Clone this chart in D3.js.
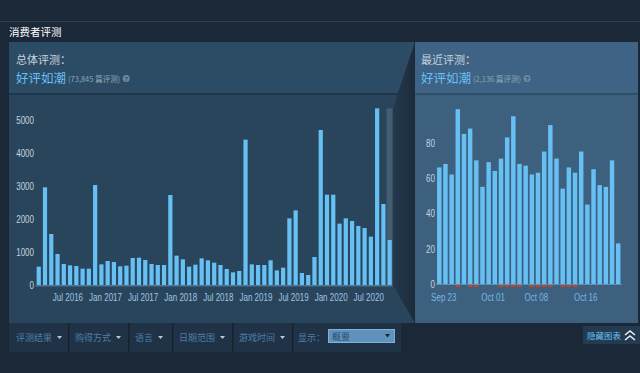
<!DOCTYPE html>
<html><head><meta charset="utf-8">
<script src="https://cdn.jsdelivr.net/npm/d3@7"></script>
<style>
html,body{margin:0;padding:0;background:#1b2838;}
svg{display:block;}
text{font-family:"Liberation Sans",Arial,"Noto Sans CJK SC",sans-serif;}
.cjk{font-family:"Noto Sans CJK SC","Liberation Sans",sans-serif;}
</style></head>
<body>
<svg id="c" width="640" height="373"></svg>
<script>
// ---- data ----
const months = ["2016-02","2016-03","2016-04","2016-05","2016-06","2016-07","2016-08","2016-09","2016-10","2016-11","2016-12",
"2017-01","2017-02","2017-03","2017-04","2017-05","2017-06","2017-07","2017-08","2017-09","2017-10","2017-11","2017-12",
"2018-01","2018-02","2018-03","2018-04","2018-05","2018-06","2018-07","2018-08","2018-09","2018-10","2018-11","2018-12",
"2019-01","2019-02","2019-03","2019-04","2019-05","2019-06","2019-07","2019-08","2019-09","2019-10","2019-11","2019-12",
"2020-01","2020-02","2020-03","2020-04","2020-05","2020-06","2020-07","2020-08","2020-09","2020-10"];
const monthlyPositive = [555,2960,1545,940,636,596,575,495,495,3030,626,
727,697,566,586,818,828,758,636,606,606,2727,889,
778,555,616,808,748,677,606,485,384,424,4404,626,
606,606,748,444,525,2020,2262,364,303,848,4697,2737,
2737,1859,2020,1939,1788,1727,1465,5354,2454,1364];
const monthTickLabels = [["2016-07","Jul 2016"],["2017-01","Jan 2017"],["2017-07","Jul 2017"],["2018-01","Jan 2018"],["2018-07","Jul 2018"],["2019-01","Jan 2019"],["2019-07","Jul 2019"],["2020-01","Jan 2020"],["2020-07","Jul 2020"]];
const monthlyTicks = [0,1000,2000,3000,4000,5000];

const days = ["09-23","09-24","09-25","09-26","09-27","09-28","09-29","09-30","10-01","10-02","10-03","10-04","10-05","10-06","10-07",
"10-08","10-09","10-10","10-11","10-12","10-13","10-14","10-15","10-16","10-17","10-18","10-19","10-20","10-21","10-22"];
const dailyPositive = [66,68,62,99,85,88,70,55,69,64,71,83,95,68,67,62,63,75,90,71,54,66,63,75,45,65,56,55,70,23];
const dailyNegative = [0,0,0,1,0,1,1,0,0,0,1,1,1,1,0,1,1,1,1,0,1,1,1,0,0,0,0,0,0,0];
const dayTickLabels = [["09-23","Sep 23"],["10-01","Oct 01"],["10-08","Oct 08"],["10-16","Oct 16"]];
const dailyTicks = [0,20,40,60,80];

const sectionTitle = "消费者评测";
const overallTitle = "总体评测：", overallRating = "好评如潮", overallCount = "(73,845 篇评测)";
const recentTitle = "最近评测：", recentRating = "好评如潮", recentCount = "(2,136 篇评测)";
const filters = ["评测结果","购得方式","语言","日期范围","游戏时间"];
const displayLabel = "显示：", displayValue = "概要", hideLabel = "隐藏图表";

// ---- drawing ----
const svg = d3.select("#c");
const defs = svg.append("defs");
const lg = defs.append("linearGradient").attr("id","lens").attr("x1","0").attr("x2","1").attr("y1","0").attr("y2","0");
lg.append("stop").attr("offset","0").attr("stop-color","#24394d");
lg.append("stop").attr("offset","1").attr("stop-color","#1c2b3b");

// condense Latin label glyphs to mimic the narrow UI font
function narrow(sel){
  sel.each(function(){
    const w = this.getComputedTextLength();
    d3.select(this).attr("textLength", w*0.8).attr("lengthAdjust","spacingAndGlyphs");
  });
}

// top strip
svg.append("rect").attr("x",0).attr("y",0).attr("width",640).attr("height",21).attr("fill","#1b2838");
svg.append("rect").attr("x",0).attr("y",21).attr("width",640).attr("height",1).attr("fill","#2b3e52");
svg.append("text").attr("class","cjk").attr("x",9).attr("y",36).attr("fill","#ffffff").attr("font-size",10.5).text(sectionTitle);

// left panel
svg.append("rect").attr("x",9).attr("y",42).attr("width",405).attr("height",51).attr("fill","#2c4b64");
svg.append("rect").attr("x",9).attr("y",93).attr("width",405).attr("height",2).attr("fill","#1f364a");
svg.append("rect").attr("x",9).attr("y",95).attr("width",405).attr("height",228).attr("fill","#29455c");
// right panel
svg.append("rect").attr("x",415).attr("y",42).attr("width",223).attr("height",51).attr("fill","#3e6384");
svg.append("rect").attr("x",415).attr("y",93).attr("width",223).attr("height",2).attr("fill","#2e4d66");
svg.append("rect").attr("x",415).attr("y",95).attr("width",223).attr("height",228).attr("fill","#3d607e");

function header(x, title, rating, count){
  svg.append("text").attr("class","cjk").attr("x",x).attr("y",64).attr("fill","#c6d4df").attr("font-size",11).text(title);
  const r = svg.append("text").attr("class","cjk").attr("x",x).attr("y",83).attr("fill","#66c0f4").attr("font-size",12.5).text(rating);
  const w = r.node().getComputedTextLength();
  const c = svg.append("text").attr("class","cjk").attr("x",x+w+2).attr("y",82).attr("fill","#8ba6b6").attr("font-size",7.5).text(count);
  const w2 = c.node().getComputedTextLength();
  svg.append("circle").attr("cx",x+w+w2+8).attr("cy",78.5).attr("r",3.5).attr("fill","#6b8aa3");
  svg.append("text").attr("x",x+w+w2+8).attr("y",81).attr("text-anchor","middle").attr("fill","#2a475e").attr("font-size",6).attr("font-weight","bold").text("?");
}
header(16, overallTitle, overallRating, overallCount);
header(421, recentTitle, recentRating, recentCount);

// left chart
const xL = d3.scaleBand().domain(months).range([35.6, 392.8]).paddingInner(0.33).paddingOuter(0.165);
const yL = d3.scaleLinear().domain([0,5000]).range([285,120]);
const maxL = d3.max(monthlyPositive);
const lastM = months[months.length-1];
const bandX = xL(lastM) - xL.step()*xL.paddingInner()/2;
svg.append("rect").attr("x",bandX).attr("y",yL(maxL)).attr("width",xL.step()).attr("height",yL(0)-yL(maxL)).attr("fill","#ffffff").attr("opacity",0.13);
svg.append("g").selectAll("rect").data(months).join("rect")
  .attr("x",d=>xL(d)).attr("width",xL.bandwidth())
  .attr("y",(d,i)=>yL(monthlyPositive[i])).attr("height",(d,i)=>yL(0)-yL(monthlyPositive[i]))
  .attr("fill","#66c0f4");
svg.append("rect").attr("x",35.6).attr("y",285).attr("width",357).attr("height",1.5).attr("fill","#4f7591");
const axL = d3.axisLeft(yL).tickValues(monthlyTicks).tickSize(0).tickPadding(0).tickFormat(d3.format("d"));
const gL = svg.append("g").attr("transform","translate(34,0)").call(axL);
gL.select(".domain").remove();
gL.selectAll("text").attr("fill","#c6d4df").attr("font-size",10).attr("dy","0.35em").attr("font-family","Liberation Sans, Arial, sans-serif").call(narrow);
svg.append("g").selectAll("text").data(monthTickLabels).join("text")
  .attr("x",d=>xL(d[0]) - xL.step()*xL.paddingInner()/2 + 1).attr("y",301)
  .attr("text-anchor","middle").attr("fill","#9ec4e0").attr("font-size",10).text(d=>d[1]).call(narrow);

// lens polygon
const lensTop = yL(maxL);
svg.append("path").attr("d",`M${bandX+xL.step()},${lensTop} L415,42 L415,323 L${bandX+xL.step()},${yL(0)} Z`).attr("fill","url(#lens)");

// right chart
const xR = d3.scaleBand().domain(days).range([436.2, 621.3]).paddingInner(0.28).paddingOuter(0.14);
const yR = d3.scaleLinear().domain([0,80]).range([284,142.7]);
svg.append("g").selectAll("rect").data(days).join("rect")
  .attr("x",d=>xR(d)).attr("width",xR.bandwidth())
  .attr("y",(d,i)=>yR(dailyPositive[i])).attr("height",(d,i)=>yR(0)-yR(dailyPositive[i]))
  .attr("fill","#66c0f4");
svg.append("rect").attr("x",436).attr("y",284).attr("width",186).attr("height",1).attr("fill","#5f8fb3");
svg.append("g").selectAll("rect").data(days).join("rect")
  .attr("x",d=>xR(d)).attr("width",xR.bandwidth())
  .attr("y",yR(0)+1).attr("height",(d,i)=>(yR(0)-yR(dailyNegative[i]))*1.2)
  .attr("fill","#c1472b");
const axR = d3.axisLeft(yR).tickValues(dailyTicks).tickSize(0).tickPadding(0);
const gR = svg.append("g").attr("transform","translate(435,0)").call(axR);
gR.select(".domain").remove();
gR.selectAll("text").attr("fill","#c6d4df").attr("font-size",10).attr("dy","0.35em").attr("font-family","Liberation Sans, Arial, sans-serif").call(narrow);
svg.append("g").selectAll("text").data(dayTickLabels).join("text")
  .attr("x",d=>xR(d[0]) + xR.bandwidth()/2 + 4.5).attr("y",301)
  .attr("text-anchor","middle").attr("fill","#73b6e6").attr("font-size",10).text(d=>d[1]).call(narrow);

// filter bar
const fx = [9,68,128,172,232,292];
svg.append("rect").attr("x",9).attr("y",323).attr("width",392).attr("height",29).attr("fill","#1f3246");
fx.slice(1).forEach(x=>svg.append("rect").attr("x",x).attr("y",323).attr("width",1.5).attr("height",29).attr("fill","#18222e"));
filters.forEach((f,i)=>{
  const t = svg.append("text").attr("class","cjk").attr("x",fx[i]+7).attr("y",341).attr("fill","#4f7fa6").attr("font-size",9).text(f);
  const w = t.node().getComputedTextLength();
  svg.append("path").attr("d",`M${fx[i]+7+w+5},336 l5,0 l-2.5,3 Z`).attr("fill","#b8c8d6");
});
svg.append("text").attr("class","cjk").attr("x",298).attr("y",341).attr("fill","#4f7fa6").attr("font-size",9).text(displayLabel);
svg.append("rect").attr("x",328.5).attr("y",329.5).attr("width",66).attr("height",13).attr("fill","#5f93bd").attr("stroke","#7fb0d6");
svg.append("text").attr("class","cjk").attr("x",332).attr("y",340).attr("fill","#2a4c6a").attr("font-size",9).text(displayValue);
svg.append("path").attr("d","M385,334 l5,0 l-2.5,3.5 Z").attr("fill","#1b2838");

// hide chart button
svg.append("rect").attr("x",583).attr("y",326).attr("width",57).attr("height",18).attr("fill","#243a50");
svg.append("text").attr("class","cjk").attr("x",587).attr("y",338.5).attr("fill","#67c1f5").attr("font-size",8.5).text(hideLabel);
svg.append("path").attr("d","M625,335 l5,-4 l5,4 M625,340 l5,-4 l5,4").attr("fill","none").attr("stroke","#e8f0f6").attr("stroke-width",1.6);
</script>
</body></html>
